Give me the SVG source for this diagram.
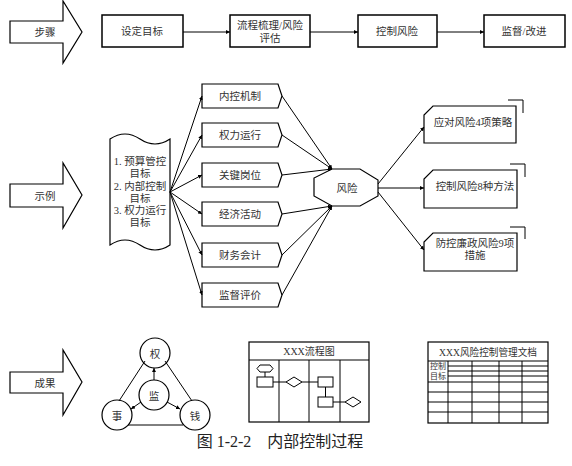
<svg xmlns="http://www.w3.org/2000/svg" width="572" height="466" viewBox="0 0 572 466">
<defs>
<marker id="ah" viewBox="0 0 10 10" refX="10" refY="5" markerWidth="4" markerHeight="4" markerUnits="userSpaceOnUse" orient="auto"><path d="M0,0 L10,5 L0,10 Z" fill="#000"/></marker>
<style>
text{font-family:"Liberation Serif","Noto Sans CJK SC",serif;fill:#333;font-size:10.5px;text-anchor:middle;dominant-baseline:central}
text.t10{font-size:10px}
text.sm{font-size:8px}
text.cap{font-size:16px;fill:#222}
.sh{fill:#fff;stroke:#000;stroke-width:1.2}
.bx{fill:#fff;stroke:#000;stroke-width:1.5}
.ln{fill:none;stroke:#000;stroke-width:1}
.la{fill:none;stroke:#000;stroke-width:1;marker-end:url(#ah)}
</style>
</defs>
<rect width="572" height="466" fill="#fff"/>

<g id="row-steps">
<g id="arrow-steps"><polygon class="sh" points="10,21 63,21 63,1 82,32 63,63 63,43 10,43"/><text x="45" y="32">步骤</text></g>
<g id="step1"><rect class="bx" x="102" y="15" width="81" height="32"/><text x="142" y="31">设定目标</text></g>
<g id="step2"><rect class="bx" x="230" y="15" width="80" height="32"/><text x="270" y="25">流程梳理/风险</text><text x="270" y="38">评估</text></g>
<g id="step3"><rect class="bx" x="358" y="15" width="79" height="32"/><text x="397" y="31">控制风险</text></g>
<g id="step4"><rect class="bx" x="484" y="15" width="81" height="32"/><text x="524" y="31">监督/改进</text></g>
</g>

<g id="row-example">
<g id="arrow-example"><polygon class="sh" points="10,184 63,184 63,163 82,195 63,228 63,207 10,207"/><text x="45" y="196">示例</text></g>
<g id="goals"><path class="sh" d="M110,139 Q125,129 140,139 T170,139 L170,245 Q155,255 140,245 T110,245 Z"/>
<text x="140" y="161">1. 预算管控</text><text x="140" y="173">目标</text><text x="140" y="186">2. 内部控制</text><text x="140" y="198">目标</text><text x="140" y="210">3. 权力运行</text><text x="140" y="222">目标</text></g>
<g id="m1"><polygon class="sh" points="202,84 278,84 282,96 278,108 202,108"/><text x="240" y="96">内控机制</text></g>
<g id="m2"><polygon class="sh" points="202,123 278,123 282,135 278,147 202,147"/><text x="240" y="135">权力运行</text></g>
<g id="m3"><polygon class="sh" points="202,163 278,163 282,175 278,187 202,187"/><text x="240" y="175">关键岗位</text></g>
<g id="m4"><polygon class="sh" points="202,202 278,202 282,214 278,226 202,226"/><text x="240" y="214">经济活动</text></g>
<g id="m5"><polygon class="sh" points="202,243 278,243 282,255 278,267 202,267"/><text x="240" y="255">财务会计</text></g>
<g id="m6"><polygon class="sh" points="202,283 278,283 282,295 278,307 202,307"/><text x="240" y="295">监督评价</text></g>
<g id="risk"><polygon class="sh" points="332,169 360,169 378,180 378,196 360,206 332,206 314,196 314,178"/><text x="347" y="188">风险</text></g>
<g id="r1"><path class="sh" d="M433,106 L516,106 L516,143 L424,143 L424,115 Z"/><path class="ln" d="M508,100 L523,100 L523,113"/><text x="473" y="122">应对风险4项策略</text></g>
<g id="r2"><path class="sh" d="M433,170 L517,170 L517,208 L424,208 L424,179 Z"/><path class="ln" d="M510,164 L525,164 L525,177"/><text x="475" y="186">控制风险8种方法</text></g>
<g id="r3"><path class="sh" d="M433,233 L517,233 L517,271 L424,271 L424,242 Z"/><path class="ln" d="M510,227 L525,227 L525,239"/><text x="475" y="243">防控廉政风险9项</text><text x="475" y="255">措施</text></g>
</g>

<g id="row-result">
<g id="arrow-result"><polygon class="sh" points="10,372 63,372 63,350 82,382 63,415 63,393 10,393"/><text x="45" y="383">成果</text></g>
<g id="c-quan"><circle class="sh" cx="155" cy="353" r="15"/><text x="155" y="354">权</text></g>
<g id="c-jian"><circle class="sh" cx="154" cy="395" r="15"/><text x="154" y="396">监</text></g>
<g id="c-shi"><circle class="sh" cx="117" cy="415" r="15"/><text x="117" y="416">事</text></g>
<g id="c-qian"><circle class="sh" cx="195" cy="415" r="15"/><text x="195" y="416">钱</text></g>
<g id="flowchart">
<rect class="sh" x="249" y="342" width="120" height="80"/>
<path class="ln" d="M249,360 H369 M279,360 V422 M309,360 V422 M340,360 V422"/>
<text class="t10" x="309" y="351">XXX流程图</text>
<polygon class="ln" points="260,365 270,365 273,368.5 270,372 260,372 257,368.5"/>
<path class="ln" d="M265,372 V377"/>
<rect class="ln" x="257" y="377" width="16" height="10"/>
<path class="ln" d="M273,382 H286 M302,382 H318 M325.5,387 V397 M333,402 H345"/>
<polygon class="ln" points="286,382 294,377 302,382 294,387"/>
<rect class="ln" x="318" y="377" width="15" height="10"/>
<rect class="ln" x="318" y="397" width="15" height="10"/>
<polygon class="ln" points="345,402 353,397 361,402 353,407"/>
</g>
<g id="document">
<rect class="sh" x="428" y="342" width="120" height="81"/>
<path class="ln" d="M428,361 H548"/>
<text class="t10" x="488" y="352" textLength="98" lengthAdjust="spacingAndGlyphs">XXX风险控制管理文档</text>
<path class="ln" d="M448,361 V423 M472,361 V423 M499,361 V423 M522,361 V423 M448,366 H548 M448,371 H548 M448,376 H548 M428,382 H548 M428,392 H548 M428,402 H548 M428,412 H548"/>
<text class="sm" x="438" y="366">控制</text><text class="sm" x="438" y="376">目标</text>
</g>
</g>

<g id="connectors">
<path class="la" d="M183,32 H230"/>
<path class="la" d="M310,32 H358"/>
<path class="la" d="M437,32 H484"/>
<path class="la" d="M170,192 L202,96"/>
<path class="la" d="M170,192 L202,135"/>
<path class="la" d="M170,192 L202,175"/>
<path class="la" d="M170,192 L202,214"/>
<path class="la" d="M170,192 L202,255"/>
<path class="la" d="M170,192 L202,295"/>
<path class="la" d="M282,96 L332,169"/>
<path class="la" d="M282,135 L332,169"/>
<path class="la" d="M282,175 L332,169"/>
<path class="la" d="M282,214 L332,206"/>
<path class="la" d="M282,255 L332,206"/>
<path class="la" d="M282,295 L332,206"/>
<path class="la" d="M378,184 L424,127"/>
<path class="la" d="M378,188 L424,188"/>
<path class="la" d="M378,192 L424,250"/>
<path class="ln" d="M145,361 L119,401"/>
<path class="ln" d="M165,361 L192,401"/>
<path class="ln" d="M128,425 H183"/>
<path class="la" d="M154,380 V368"/>
<path class="la" d="M141,402 L131,409"/>
<path class="la" d="M167,402 L180,409"/>
</g>

<g id="caption"><text class="cap" x="280" y="441">图 1-2-2　内部控制过程</text></g>
</svg>
